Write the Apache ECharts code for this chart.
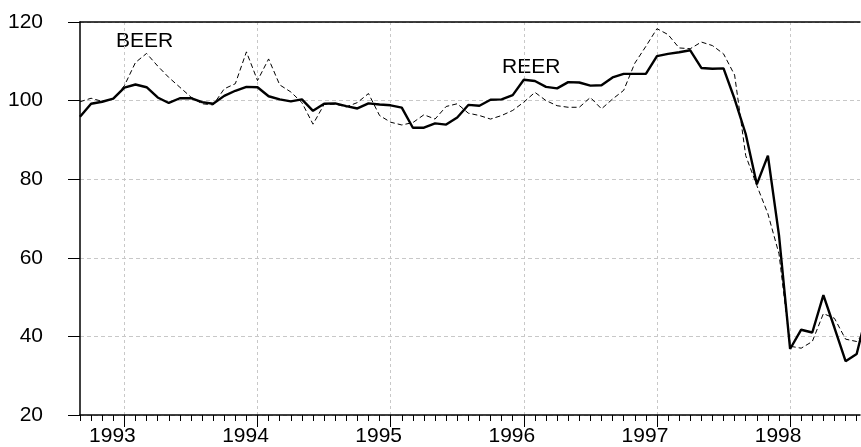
<!DOCTYPE html>
<html>
<head>
<meta charset="utf-8">
<style>
  html, body { margin: 0; padding: 0; background: #fff; }
  #chart { width: 861px; height: 447px; }
</style>
<script src="https://cdn.jsdelivr.net/npm/echarts@6/dist/echarts.min.js"></script>
</head>
<body>
<div id="chart"></div>
<script>
// monthly data, first observation 1992M09
var startYear = 1992;
var startMonth = 9;
var years = ['1993', '1994', '1995', '1996', '1997', '1998'];

var reer = [
  95.9, 99.2, 99.7, 100.5,
  103.3, 104.1, 103.4, 100.8, 99.4, 100.6, 100.6, 99.6, 99.2, 101.2, 102.5, 103.5,
  103.4, 101.1, 100.3, 99.8, 100.3, 97.4, 99.2, 99.3, 98.6, 98.0, 99.3, 99.0,
  98.8, 98.2, 93.1, 93.1, 94.2, 93.9, 95.7, 98.9, 98.7, 100.2, 100.3, 101.4,
  105.3, 105.0, 103.5, 103.1, 104.7, 104.6, 103.8, 103.9, 105.9, 106.8, 106.8, 106.8,
  111.3, 111.9, 112.3, 112.8, 108.3, 108.1, 108.2, 100.4, 91.5, 78.7, 86.0, 65.7,
  36.8, 41.7, 41.0, 50.5, 42.2, 33.7, 35.5, 47.0
];
var beer = [
  99.7, 100.6, 99.8, 100.4,
  103.8, 109.7, 112.0, 108.8, 105.9, 103.4, 100.9, 99.2, 98.9, 103.0, 104.3, 112.4,
  105.1, 110.6, 104.0, 102.2, 99.5, 94.0, 99.0, 99.1, 98.4, 99.5, 101.8, 96.2,
  94.5, 93.8, 94.4, 96.4, 95.3, 98.5, 99.2, 96.8, 96.2, 95.3, 96.2, 97.5,
  99.6, 102.1, 100.0, 98.7, 98.3, 98.3, 100.8, 97.9, 100.4, 102.6, 109.5, 113.8,
  118.3, 116.8, 113.4, 113.2, 114.9, 114.0, 111.9, 106.5, 86.0, 78.4, 71.2, 61.0,
  37.5, 37.0, 38.7, 45.8, 44.6, 39.3, 38.7, 42.0
];
var yTicks = [20, 40, 60, 80, 100, 120];

function toPairs(arr) {
  return arr.map(function (v, i) { return [i, v]; });
}
var monthTicks = reer.map(function (v, i) { return i; }).slice(0, 71);
var yearTicks = years.map(function (y) { return (+y - startYear) * 12 - (startMonth - 1); });

var font = 'Arial, "Liberation Sans", sans-serif';
var xMax = 70.3;

var chart = echarts.init(document.getElementById('chart'));
chart.setOption({
  animation: false,
  backgroundColor: '#fff',
  grid: { left: 80, top: 22, right: 1, bottom: 30 },
  xAxis: [{
    type: 'value', min: 0, max: xMax, position: 'bottom',
    axisLine: { show: true, onZero: false, lineStyle: { color: '#000', width: 1.5 } },
    axisTick: { show: true, length: 6, customValues: monthTicks, lineStyle: { color: '#000' } },
    axisLabel: { show: false },
    splitLine: { show: false }
  }, {
    type: 'value', min: 0, max: xMax, position: 'bottom',
    axisLine: { show: false, onZero: false },
    axisTick: { show: true, length: 12, customValues: yearTicks, lineStyle: { color: '#000' } },
    axisLabel: {
      show: true, customValues: yearTicks, margin: 11, padding: [0, 24, 0, 0],
      color: '#000', fontSize: 21, fontFamily: font,
      formatter: function (v) { return years[(v - yearTicks[0]) / 12]; }
    },
    splitLine: { show: true, lineStyle: { color: '#c8c8c8', type: [3, 3], width: 1 } }
  }, {
    type: 'value', min: 0, max: xMax, position: 'top',
    axisLine: { show: true, onZero: false, lineStyle: { color: '#000', width: 1.5 } },
    axisTick: { show: false },
    axisLabel: { show: false },
    splitLine: { show: false }
  }],
  yAxis: {
    type: 'value', min: 20, max: 120, interval: 20,
    axisLine: { show: true, onZero: false, lineStyle: { color: '#000', width: 1.5 } },
    axisTick: { show: true, length: 12, lineStyle: { color: '#000' } },
    axisLabel: {
      margin: 37, color: '#000', fontSize: 21, fontFamily: font,
      formatter: function (v) { return yTicks.indexOf(v) >= 0 ? String(v) : ''; }
    },
    splitLine: { show: true, lineStyle: { color: '#c8c8c8', type: [4, 3], width: 1 } }
  },
  graphic: [{
    type: 'text', left: 116, top: 31,
    style: { text: 'BEER', fill: '#000', font: '21px ' + font }
  }, {
    type: 'text', left: 502, top: 57,
    style: { text: 'REER', fill: '#000', font: '21px ' + font }
  }],
  series: [{
    name: 'BEER', type: 'line', xAxisIndex: 0,
    data: toPairs(beer), showSymbol: false, symbol: 'none',
    lineStyle: { color: '#000', width: 1, type: [5, 3] },
    z: 3
  }, {
    name: 'REER', type: 'line', xAxisIndex: 0,
    data: toPairs(reer), showSymbol: false, symbol: 'none',
    lineStyle: { color: '#000', width: 2.4 },
    z: 4
  }]
});
</script>
</body>
</html>
